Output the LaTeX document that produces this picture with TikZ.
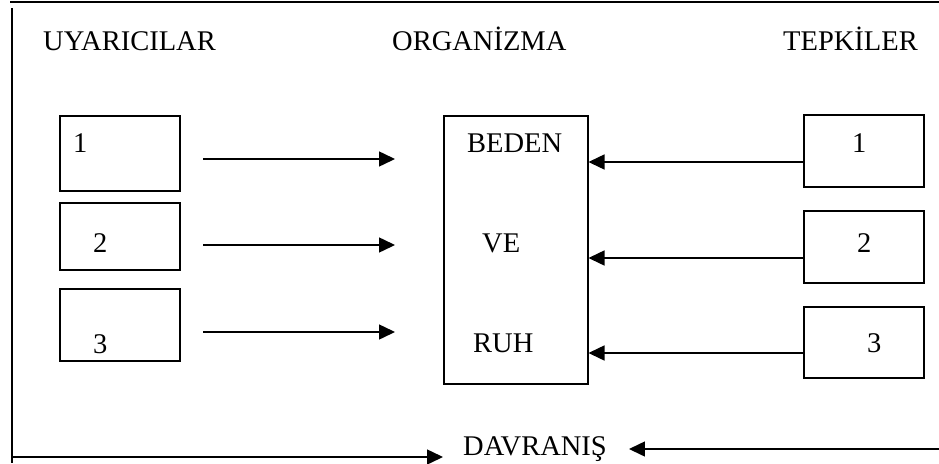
\documentclass[tikz,border=0pt]{standalone}
\usepackage{fontspec}
\setmainfont{Liberation Serif}
\usetikzlibrary{arrows.meta}
\tikzset{
  lbl/.style={anchor=base west, inner sep=0pt, font=\fontsize{28.5}{34}\selectfont},
  boxshape/.style={draw, line width=1.5pt, inner sep=0pt, anchor=north west},
  arr/.style={line width=1.5pt, -{Triangle[length=16pt,width=15pt]}},
  frameline/.style={line width=1.5pt}
}
\begin{document}
\begin{tikzpicture}[x=1pt,y=-1pt]
\useasboundingbox (0,0) rectangle (939,463);
% frame
\coordinate (tl) at (10,2);
\coordinate (tr) at (939,2);
\coordinate (vl) at (12,8);
\coordinate (vb) at (12,463);
\draw[line width=2.2pt] (tl) -- (tr);
\draw[frameline] (vl) -- (vb);
% titles
\node[lbl] (t1) at (43,50) {UYARICILAR};
\node[lbl] (t2) at (392,50) {ORGANİZMA};
\node[lbl] (t3) at (783,50) {TEPKİLER};
% left boxes
\node[boxshape, minimum width=120pt, minimum height=75pt] (l1) at (59,115) {};
\node[boxshape, minimum width=120pt, minimum height=67pt] (l2) at (59,202) {};
\node[boxshape, minimum width=120pt, minimum height=72pt] (l3) at (59,288) {};
\node[lbl] (l1t) at (73,152) {1};
\node[lbl] (l2t) at (93,252) {2};
\node[lbl] (l3t) at (93,353) {3};
% center box
\node[boxshape, minimum width=144pt, minimum height=268pt] (c) at (443,115) {};
\node[lbl] (c1) at (467,152) {BEDEN};
\node[lbl] (c2) at (482,252) {VE};
\node[lbl] (c3) at (473,352) {RUH};
% right boxes
\node[boxshape, minimum width=120pt, minimum height=72pt] (r1) at (803,114) {};
\node[boxshape, minimum width=120pt, minimum height=72pt] (r2) at (803,210) {};
\node[boxshape, minimum width=120pt, minimum height=71pt] (r3) at (803,306) {};
\node[lbl] (r1t) at (852,152) {1};
\node[lbl] (r2t) at (857,252) {2};
\node[lbl] (r3t) at (867,352) {3};
% left arrows
\coordinate (a1s) at (203,159); \coordinate (a1e) at (395,159);
\coordinate (a2s) at (203,245); \coordinate (a2e) at (395,245);
\coordinate (a3s) at (203,332); \coordinate (a3e) at (395,332);
\draw[arr] (a1s) -- (a1e);
\draw[arr] (a2s) -- (a2e);
\draw[arr] (a3s) -- (a3e);
% right arrows
\draw[arr] (r1.west |- 0,162) -- (c.east |- 0,162);
\draw[arr] (r2.west |- 0,258) -- (c.east |- 0,258);
\draw[arr] (r3.west |- 0,353) -- (c.east |- 0,353);
% bottom
\node[lbl] (d) at (463,455) {DAVRANIŞ};
\coordinate (bl) at (12,457);
\coordinate (bre) at (939,449);
\draw[arr] (bl) -- ([xshift=-20pt]d.west |- bl);
\draw[arr] (bre) -- ([xshift=22pt]d.east |- bre);
\end{tikzpicture}
\end{document}
